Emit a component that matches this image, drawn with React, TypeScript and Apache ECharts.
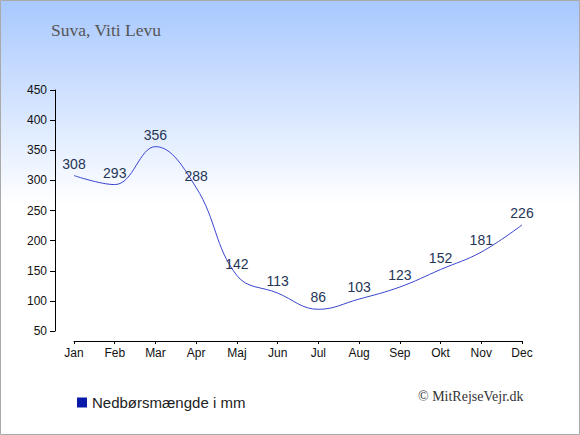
import React, { useEffect, useRef } from "react";
import * as echarts from "echarts";

const months = ["Jan", "Feb", "Mar", "Apr", "Maj", "Jun", "Jul", "Aug", "Sep", "Okt", "Nov", "Dec"];
const rainfall = [308, 293, 356, 288, 142, 113, 86, 103, 123, 152, 181, 226];
const seriesName = "Nedbørsmængde i mm";
const titleText = "Suva, Viti Levu";
const creditText = "© MitRejseVejr.dk";

export default function App() {
  const ref = useRef<HTMLDivElement>(null);
  useEffect(() => {
    document.body.style.margin = "0";
    const chart = echarts.init(ref.current!, null, { renderer: "svg" });
    chart.setOption({
      animation: false,
      backgroundColor: {
        type: "linear",
        x: 0, y: 0, x2: 0, y2: 1,
        colorStops: [
          { offset: 0, color: "#a8c8ff" },
          { offset: 0.47, color: "#ffffff" },
          { offset: 1, color: "#ffffff" },
        ],
      },
      graphic: [
        {
          type: "rect",
          shape: { x: 0.5, y: 0.5, width: 579, height: 434 },
          style: { fill: "none", stroke: "#aaaaaa", lineWidth: 1 },
          silent: true,
        },
        {
          type: "text",
          left: 51,
          top: 21,
          style: { text: titleText, font: "17.5px 'Liberation Serif', serif", fill: "#555555" },
        },
        {
          type: "text",
          left: 418,
          top: 389,
          style: { text: creditText, font: "14px 'Liberation Serif', serif", fill: "#333333" },
        },
      ],
      legend: {
        left: 72,
        top: 390,
        icon: "rect",
        itemWidth: 10,
        itemHeight: 10,
        itemGap: 6,
        textStyle: { fontFamily: "'Liberation Sans', Arial, sans-serif", fontSize: 15, color: "#222222" },
        data: [{ name: seriesName, itemStyle: { color: "#0a1aa8" } }],
      },
      grid: { left: 74, right: 58, top: 90, bottom: 104, containLabel: false },
      xAxis: {
        type: "category",
        data: months,
        boundaryGap: false,
        offset: 10,
        axisLine: { lineStyle: { color: "#000000", width: 1 } },
        axisTick: { show: true, length: 3, alignWithLabel: true },
        axisLabel: { color: "#111111", fontSize: 12, fontFamily: "'Liberation Sans', Arial, sans-serif", margin: 6, interval: 0 },
        splitLine: { show: false },
      },
      yAxis: {
        type: "value",
        min: 50,
        max: 450,
        interval: 50,
        offset: 19,
        axisLine: { show: true, lineStyle: { color: "#000000", width: 1 } },
        axisTick: { show: true, length: 5, lineStyle: { color: "#000000" } },
        axisLabel: { color: "#111111", fontSize: 12, fontFamily: "'Liberation Sans', Arial, sans-serif", margin: 8 },
        splitLine: { show: false },
      },
      series: [
        {
          name: seriesName,
          type: "line",
          data: rainfall,
          smooth: 0.4,
          symbol: "circle",
          symbolSize: 0,
          itemStyle: { color: "#0a1aa8" },
          lineStyle: { color: "#3a44cc", width: 1 },
          label: {
            show: true,
            position: "top",
            distance: 5,
            fontSize: 14,
            fontFamily: "'Liberation Sans', Arial, sans-serif",
            color: "#253556",
          },
        },
      ],
    });
    return () => chart.dispose();
  }, []);
  return <div ref={ref} style={{ width: 580, height: 435 }} />;
}
